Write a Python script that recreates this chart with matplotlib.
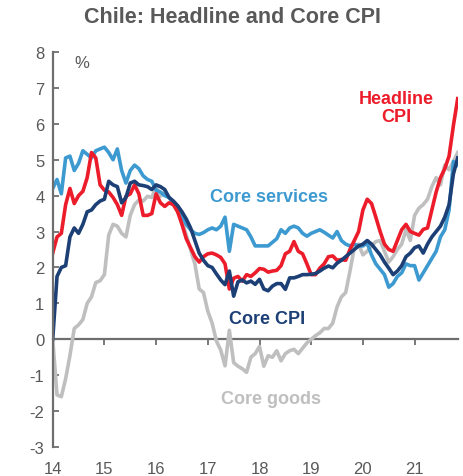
import matplotlib.pyplot as plt
import numpy as np

# monthly y/y %, Jan 2014 - Nov 2021
headline = [2.4, 2.85, 2.95, 3.75, 4.2, 3.78, 4.0, 4.12, 4.5, 5.2, 5.05, 4.3,
            4.15, 4.1, 3.95, 3.75, 3.45, 3.98, 4.05, 4.3, 4.05, 3.45, 3.45, 3.5,
            4.05, 3.8, 3.7, 3.8, 3.75, 3.55, 3.2, 2.8, 2.55, 2.3, 2.15, 2.3,
            2.38, 2.4, 2.35, 2.28, 2.1, 1.4, 1.7, 1.75, 1.62, 1.8, 1.75, 1.85,
            1.97, 1.95, 1.87, 1.9, 1.92, 2.05, 2.38, 2.45, 2.72, 2.45, 2.38, 2.1,
            1.8, 1.8, 1.98, 2.1, 2.3, 2.32, 2.2, 2.22, 2.2, 2.5, 2.75, 3.0,
            3.6, 3.9, 3.78, 3.4, 3.0, 2.65, 2.5, 2.45, 2.75, 3.05, 3.2, 3.0,
            2.95, 2.9, 3.06, 3.1, 3.6, 4.1, 4.5, 4.75, 5.1, 5.95, 6.7]

core = [0.0, 1.75, 2.0, 2.05, 2.85, 3.1, 2.95, 3.2, 3.55, 3.6, 3.75, 3.85,
        3.9, 4.4, 4.3, 4.25, 3.8, 3.95, 4.35, 4.4, 4.3, 4.28, 4.25, 4.17,
        4.3, 4.25, 4.17, 3.95, 3.85, 3.72, 3.55, 3.35, 3.1, 2.75, 2.4, 2.2,
        2.05, 2.0, 1.82, 1.65, 1.52, 1.9, 1.2, 1.6, 1.65, 1.57, 1.62, 1.53,
        1.67, 1.4, 1.35, 1.48, 1.55, 1.55, 1.39, 1.71, 1.71, 1.75, 1.8, 1.8,
        1.81, 1.83, 1.9, 1.98, 2.04, 1.99, 2.12, 2.2, 2.3, 2.4, 2.5, 2.6,
        2.65, 2.75, 2.65, 2.5, 2.35, 2.15, 1.98, 1.8, 1.9, 2.05, 2.3, 2.4,
        2.55, 2.6, 2.4, 2.65, 2.85, 3.0, 3.15, 3.4, 3.75, 4.6, 5.05]

services = [4.2, 4.45, 4.05, 5.05, 5.1, 4.7, 4.9, 5.25, 5.15, 5.05, 5.25, 5.3,
            5.35, 5.2, 5.0, 5.3, 4.7, 4.35, 4.7, 4.85, 4.75, 4.55, 4.45, 4.4,
            4.15, 4.1, 4.0, 3.95, 3.8, 3.7, 3.45, 3.2, 3.05, 2.95, 2.92, 2.97,
            3.05, 3.1, 3.05, 3.15, 3.4, 2.45, 3.2, 3.15, 3.1, 3.05, 2.85, 2.6,
            2.6, 2.6, 2.6, 2.7, 2.8, 3.05, 2.95, 3.1, 3.15, 3.1, 2.95, 2.87,
            2.95, 3.0, 3.05, 2.98, 2.9, 2.82, 3.0, 2.75, 2.65, 2.6, 2.65, 2.6,
            2.6, 2.68, 2.35, 2.1, 1.95, 1.8, 1.45, 1.55, 1.75, 1.85, 2.1, 2.05,
            2.05, 1.65, 1.85, 2.05, 2.25, 2.45, 2.85, 3.05, 3.6, 4.95, 4.85]

goods = [0.0, -1.55, -1.6, -1.1, -0.45, 0.3, 0.4, 0.55, 1.0, 1.18, 1.58, 1.63,
         1.8, 2.9, 3.2, 3.15, 2.95, 2.85, 3.45, 3.75, 3.88, 3.85, 3.98, 3.95,
         4.25, 3.98, 4.1, 3.95, 3.8, 3.55, 3.3, 2.9, 2.5, 2.1, 1.4, 1.3,
         0.78, 0.45, -0.05, -0.3, -0.74, 0.25, -0.65, -0.75, -0.82, -0.92, -0.5, -0.4,
         -0.2, -0.75, -0.46, -0.5, -0.32, -0.6, -0.4, -0.32, -0.28, -0.4, -0.25, -0.1,
         0.0, 0.1, 0.18, 0.3, 0.3, 0.45, 0.9, 1.18, 1.3, 1.9, 2.55, 2.65,
         2.35, 2.45, 2.6, 2.72, 2.75, 2.45, 2.15, 2.3, 2.5, 2.65, 3.05, 2.75,
         3.45, 3.65, 3.75, 3.9, 4.25, 4.5, 4.3, 4.85, 4.72, 4.95, 5.2]

years = [2014, 2015, 2016, 2017, 2018, 2019, 2020, 2021]
year_labels = ['14', '15', '16', '17', '18', '19', '20', '21']

RED = '#EC1C2B'
LBLUE = '#3D9AD1'
DBLUE = '#1C3F76'
GREY = '#BFBFBF'
AXIS = '#6E6E6E'
TXT = '#595959'

plt.rcParams['font.family'] = ['Liberation Sans', 'DejaVu Sans']
plt.rcParams['axes.unicode_minus'] = False

n = len(headline)
t = 2014 + np.arange(n) / 12

fig = plt.figure(figsize=(4.64, 4.77), dpi=100)
ax = fig.add_axes([0.1136, 0.0608, 0.8728, 0.8281])

lw = 2.6
ax.plot(t, goods, color=GREY, lw=lw)
ax.plot(t, services, color=LBLUE, lw=lw)
ax.plot(t, headline, color=RED, lw=lw)
ax.plot(t, core, color=DBLUE, lw=lw)

ax.set_xlim(t[0], t[-1])
ax.set_ylim(-3, 8)
ax.set_yticks(range(-3, 9))

for s in ['top', 'right', 'bottom']:
    ax.spines[s].set_visible(False)
ax.spines['left'].set_color(AXIS)
ax.spines['left'].set_linewidth(1.6)
ax.tick_params(axis='y', direction='in', length=4, width=1.3, color=AXIS,
               labelcolor=TXT, labelsize=12, pad=6)
ax.set_xticks(years)
ax.set_xticklabels(year_labels)
ax.tick_params(axis='x', length=0, labelcolor=TXT, labelsize=12, pad=10)

# zero line with year ticks
sec = ax.secondary_xaxis(3 / 11)
sec.set_xticks(years)
sec.set_xticklabels([])
sec.spines['bottom'].set_color(AXIS)
sec.spines['bottom'].set_linewidth(1.6)
sec.tick_params(axis='x', direction='out', length=4, width=1.3, color=AXIS)

fig.text(0.5, 0.964, 'Chile: Headline and Core CPI', ha='center', va='center',
         fontsize=15.5, fontweight='bold', color=TXT)
ax.text(2014.56, 7.7, '%', ha='center', va='center', fontsize=12, color=TXT)
ax.text(2020.64, 6.45, 'Headline\nCPI', ha='center', va='center', fontsize=13,
        fontweight='bold', color=RED, linespacing=1.05)
ax.text(2018.18, 3.98, 'Core services', ha='center', va='center', fontsize=13,
        fontweight='bold', color=LBLUE)
ax.text(2018.15, 0.58, 'Core CPI', ha='center', va='center', fontsize=13,
        fontweight='bold', color=DBLUE)
ax.text(2018.23, -1.65, 'Core goods', ha='center', va='center', fontsize=13,
        fontweight='bold', color=GREY)

fig.savefig('out.png', dpi=100)
